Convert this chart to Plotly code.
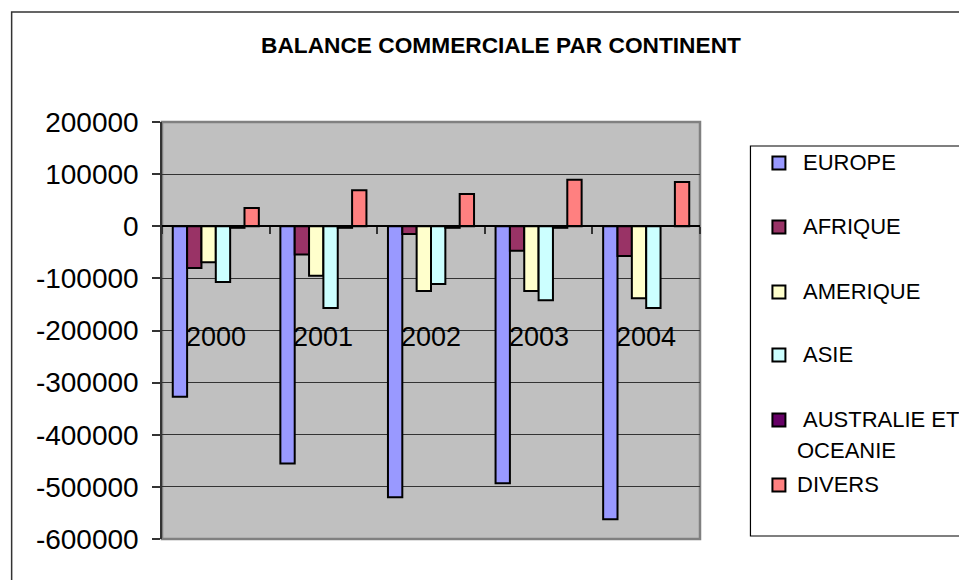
import plotly.graph_objects as go

years = ["2000", "2001", "2002", "2003", "2004"]
series_names = ["EUROPE", "AFRIQUE", "AMERIQUE", "ASIE", "AUSTRALIE ET OCEANIE", "DIVERS"]
legend_lines = [["EUROPE"], ["AFRIQUE"], ["AMERIQUE"], ["ASIE"], ["AUSTRALIE ET", "OCEANIE"], ["DIVERS"]]
europe = [-327000, -455000, -520000, -493000, -562000]
afrique = [-80000, -54000, -15000, -47000, -57000]
amerique = [-69000, -95000, -124000, -124000, -138000]
asie = [-107000, -157000, -111000, -142000, -157000]
australie = [-3000, -3000, -3000, -3000, None]
divers = [35000, 69000, 62000, 89000, 85000]
colors = ["#9999FF", "#993366", "#FFFFCC", "#CCFFFF", "#660066", "#FF8080"]
ytickvals = [200000, 100000, 0, -100000, -200000, -300000, -400000, -500000, -600000]
yticktext = ["200000", "100000", "0", "-100000", "-200000", "-300000", "-400000", "-500000", "-600000"]
title_text = "BALANCE COMMERCIALE PAR CONTINENT"

values = [europe, afrique, amerique, asie, australie, divers]

# page offset introduced by default body margin
OFF = 8
W, H = 967, 580
# plot area in page pixels
L, R, T, B = 161.5, 700.0, 122.0, 539.0
def px(x):
    return (x - L) / (R - L)
def py(y):
    return (B - y) / (B - T)

font_family = "Liberation Sans, Arial, sans-serif"

fig = go.Figure()
for name, vals, col in zip(series_names, values, colors):
    fig.add_trace(go.Bar(
        x=years, y=vals, name=name,
        marker=dict(color=col, line=dict(color="black", width=2)),
    ))

fig.update_layout(
    width=W, height=H,
    paper_bgcolor="white", plot_bgcolor="#C0C0C0",
    margin=dict(l=L - OFF, r=W - (R - OFF), t=T - OFF, b=H - (B - OFF), autoexpand=False),
    barmode="group", bargap=0.2, bargroupgap=0,
    showlegend=False,
    title=dict(text="<b>" + title_text + "</b>", xref="container", x=(501 - OFF) / W, xanchor="center",
               yref="container", y=1 - (45 - OFF) / H, yanchor="middle",
               font=dict(family=font_family, size=22.7, color="black")),
    font=dict(family=font_family, color="black"),
)

fig.update_yaxes(
    range=[-600000, 200000], tickvals=ytickvals, ticktext=yticktext,
    showgrid=True, gridcolor="#333333", gridwidth=1,
    zeroline=False, showline=True, linecolor="#333333", linewidth=1.5,
    ticks="outside", ticklen=8, tickcolor="#333333", tickwidth=1.5,
    tickfont=dict(family=font_family, size=28, color="black"),
    ticklabelstandoff=8,
)
fig.update_xaxes(
    type="category", range=[-0.5, 4.5],
    anchor="free", position=py(226),
    showline=True, linecolor="black", linewidth=2,
    ticks="outside", tickson="boundaries", ticklen=7, tickcolor="#333333", tickwidth=1.5,
    showticklabels=False, showgrid=False, zeroline=False,
)

# category labels inside the plot (category index positions)
for i, yr in enumerate(years):
    fig.add_annotation(x=i, y=-212000, xref="x", yref="y", text=yr, showarrow=False,
                       font=dict(family=font_family, size=27, color="black"))

shapes = [
    # plot area frame
    dict(type="rect", xref="paper", yref="paper", x0=0, x1=1, y0=0, y1=1,
         line=dict(color="#808080", width=2.5), layer="below"),
    # outer chart border
    dict(type="rect", xref="paper", yref="paper", x0=px(11), x1=px(985), y0=py(600), y1=py(12),
         line=dict(color="#333333", width=1.5)),
    # legend box
    dict(type="rect", xref="paper", yref="paper", x0=px(750.5), x1=px(985), y0=py(536), y1=py(146),
         line=dict(color="black", width=1.2)),
]

# legend: swatch + label(s) for each series
legend_rows = [163, 227, 292, 355, 420, 485]
line_step = 31
for i, (lines, col) in enumerate(zip(legend_lines, colors)):
    cy = legend_rows[i]
    shapes.append(dict(type="rect", xref="paper", yref="paper",
                       x0=px(772.5), x1=px(785.5), y0=py(cy + 6.5), y1=py(cy - 6.5),
                       fillcolor=col, line=dict(color="black", width=2)))
    for k, txt in enumerate(lines):
        # first line carries a leading space in the original, continuation / last entry do not
        tx = 801 if (k == 0 and i < 5) else 795
        fig.add_annotation(x=px(tx), y=py(cy - 1 + k * line_step), xref="paper", yref="paper",
                           text=txt, showarrow=False, xanchor="left", yanchor="middle",
                           font=dict(family=font_family, size=22, color="black"))

fig.update_layout(shapes=shapes)

fig.write_html("out.html")
